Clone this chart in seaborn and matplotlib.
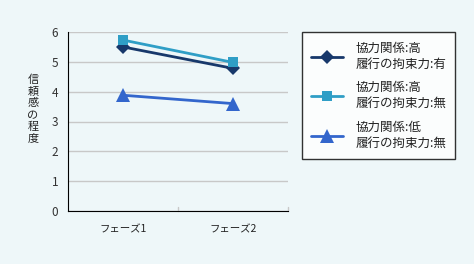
import matplotlib
matplotlib.use("Agg")
import matplotlib.pyplot as plt
import seaborn as sns
import pandas as pd

phases = ["フェーズ1", "フェーズ2"]
series_names = ["協力関係:高\n履行の拘束力:有", "協力関係:高\n履行の拘束力:無", "協力関係:低\n履行の拘束力:無"]
values_high_bind = [5.5, 4.78]
values_high_nobind = [5.73, 4.98]
values_low_nobind = [3.88, 3.6]
y_ticks = [0, 1, 2, 3, 4, 5, 6]
y_label = "信頼感の程度"

colors = ["#17386b", "#2f9ec6", "#3366cc"]
markers = ["D", "s", "^"]
msizes = [7, 7, 10]

rows = []
for name, vals in zip(series_names, [values_high_bind, values_high_nobind, values_low_nobind]):
    for p, v in zip(phases, vals):
        rows.append({"phase": p, "value": v, "series": name})
df = pd.DataFrame(rows)

sns.set_style("white")
plt.rcParams['font.family'] = ['Noto Sans CJK JP', 'DejaVu Sans']
bg = "#eef7f9"
fig = plt.figure(figsize=(4.74, 2.64), dpi=100, facecolor=bg)
ax = fig.add_axes([68/474, 1-211/264, 220/474, 179/264])
ax.set_facecolor(bg)

for name, c, m, ms in zip(series_names, colors, markers, msizes):
    sub = df[df["series"] == name]
    sns.lineplot(data=sub, x="phase", y="value", ax=ax, color=c, marker=m,
                 markersize=ms, markeredgewidth=0, linewidth=2, label=name,
                 sort=False)

ax.set_xlim(-0.5, 1.5)
ax.set_ylim(0, 6)
ax.set_yticks(y_ticks)
ax.set_yticklabels([str(t) for t in y_ticks], fontsize=8.5, color="#333333")
ax.yaxis.grid(True, color="#c8c8c8", linewidth=1)
ax.set_axisbelow(True)
ax.tick_params(axis="y", length=0, pad=7)
ax.tick_params(axis="x", length=0, pad=10, labelsize=7.5, labelcolor="#222222")
ax.set_xlabel("")
ax.set_ylabel("")
for s in ["top", "right"]:
    ax.spines[s].set_visible(False)
ax.spines["left"].set_color("black")
ax.spines["bottom"].set_color("black")
# small gray category boundary ticks
for xb in [0.5, 1.5]:
    ax.plot([xb, xb], [0, 0.12], color="#c8c8c8", linewidth=1, clip_on=False)

fig.text(33/474, 1-109/264, "\n".join(y_label), ha="center", va="center",
         fontsize=8, linespacing=1.2, color="#222222")

handles, labels = ax.get_legend_handles_labels()
ax.legend_.remove()
leg = fig.legend(handles, labels, loc="upper left",
                 bbox_to_anchor=(302/474, 1-32/264), bbox_transform=fig.transFigure,
                 frameon=True, fontsize=9, handlelength=2.5, labelspacing=0.85,
                 borderpad=0.75, handletextpad=1.0, fancybox=False, borderaxespad=0)
leg.get_frame().set_edgecolor("black")
leg.get_frame().set_linewidth(1)
leg.get_frame().set_facecolor("white")
for t in leg.get_texts():
    t.set_color("#222222")
    t.set_linespacing(1.3)

fig.savefig("out.png", dpi=100, facecolor=bg)
